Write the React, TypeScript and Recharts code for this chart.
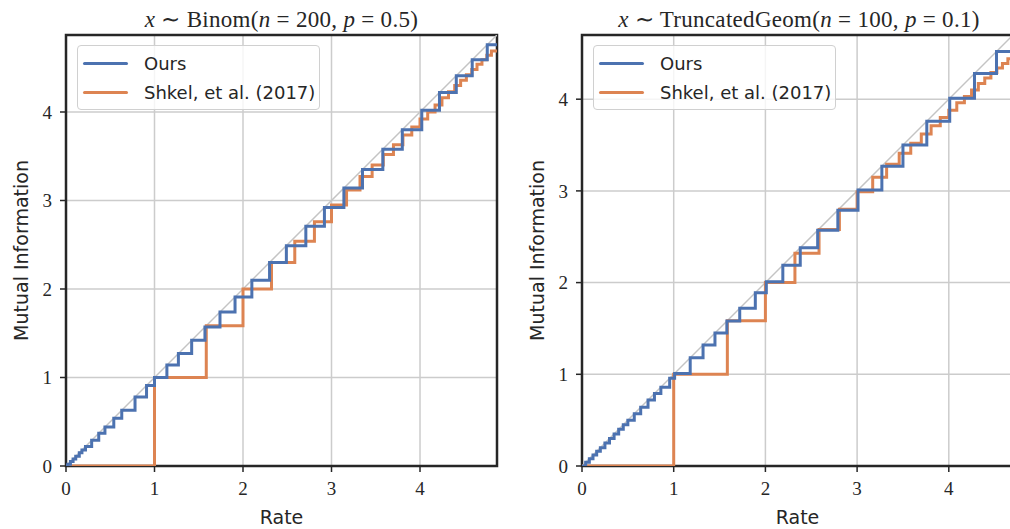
import React from 'react';
import { LineChart, Line, XAxis, YAxis, CartesianGrid, ReferenceArea } from 'recharts';

const BLUE = '#4C72B0';
const ORANGE = '#DD8452';
const FRAME = '#262626';
const GRID = '#cccccc';
const DIAG = '#c4c4c4';

// ---------- data ----------
const axisTicks = [0, 1, 2, 3, 4];

// Left panel: x ~ Binom(n=200, p=0.5)
const binomMax = 4.87;
const binomOursRate = [0, 0.02, 0.05, 0.08, 0.11, 0.15, 0.18, 0.22, 0.29, 0.37, 0.44, 0.54, 0.63, 0.78, 0.91, 1.0, 1.14, 1.27, 1.42, 1.57, 1.74, 1.91, 2.1, 2.3, 2.49, 2.71, 2.92, 3.14, 3.35, 3.58, 3.8, 4.02, 4.22, 4.41, 4.59, 4.76, 4.87];
const binomOursMI = [0, 0.02, 0.05, 0.08, 0.11, 0.15, 0.18, 0.22, 0.29, 0.37, 0.44, 0.54, 0.63, 0.78, 0.91, 1.0, 1.14, 1.27, 1.42, 1.57, 1.74, 1.91, 2.1, 2.3, 2.49, 2.71, 2.92, 3.14, 3.35, 3.58, 3.8, 4.02, 4.22, 4.41, 4.59, 4.76, 4.76];
const binomShkelRate = [0, 1.0, 1.585, 2.0, 2.322, 2.585, 2.807, 3.0, 3.17, 3.322, 3.459, 3.585, 3.7, 3.807, 3.907, 4.0, 4.087, 4.17, 4.248, 4.322, 4.392, 4.459, 4.524, 4.585, 4.644, 4.7, 4.755, 4.807, 4.87];
const binomShkelMI = [0, 1.0, 1.585, 2.0, 2.3, 2.54, 2.76, 2.95, 3.12, 3.27, 3.4, 3.52, 3.63, 3.74, 3.83, 3.92, 4.0, 4.08, 4.16, 4.23, 4.3, 4.36, 4.42, 4.48, 4.54, 4.59, 4.64, 4.69, 4.69];

// Right panel: x ~ TruncatedGeom(n=100, p=0.1)
const geomMax = 4.7;
const geomOursRate = [0, 0.04, 0.08, 0.12, 0.16, 0.2, 0.25, 0.3, 0.35, 0.4, 0.45, 0.5, 0.57, 0.64, 0.72, 0.79, 0.86, 0.956, 1.01, 1.18, 1.32, 1.45, 1.58, 1.72, 1.89, 2.01, 2.19, 2.38, 2.57, 2.79, 3.01, 3.27, 3.5, 3.76, 4.01, 4.28, 4.52, 4.7];
const geomOursMI = [0, 0.04, 0.08, 0.12, 0.16, 0.2, 0.25, 0.3, 0.35, 0.4, 0.45, 0.5, 0.57, 0.64, 0.72, 0.79, 0.86, 0.956, 1.01, 1.18, 1.32, 1.45, 1.58, 1.72, 1.89, 2.01, 2.19, 2.38, 2.57, 2.79, 3.01, 3.27, 3.5, 3.76, 4.01, 4.28, 4.52, 4.52];
const geomShkelRate = [0, 1.0, 1.585, 2.0, 2.322, 2.585, 2.807, 3.0, 3.17, 3.322, 3.459, 3.585, 3.7, 3.807, 3.907, 4.0, 4.087, 4.17, 4.248, 4.322, 4.392, 4.459, 4.524, 4.585, 4.644, 4.7];
const geomShkelMI = [0, 1.0, 1.585, 2.0, 2.32, 2.58, 2.8, 2.99, 3.15, 3.29, 3.41, 3.52, 3.62, 3.71, 3.8, 3.88, 3.96, 4.03, 4.1, 4.17, 4.23, 4.29, 4.34, 4.39, 4.44, 4.44];

const legendLabels = ['Ours', 'Shkel, et al. (2017)'];

const zip = (xs: number[], ys: number[]) => xs.map((x, i) => ({ x, y: ys[i] }));

const SANS = "'DejaVu Sans', sans-serif";
const SERIF = "'Liberation Serif', serif";

type PanelProps = {
  left: number;
  max: number;
  ours: { x: number; y: number }[];
  shkel: { x: number; y: number }[];
};

function Panel({ left, max, ours, shkel }: PanelProps) {
  const diag = zip([0, max], [0, max]);
  const tickStyle = { fill: FRAME, fontSize: 19, fontFamily: SERIF };
  return (
    <div style={{ position: 'absolute', left, top: 0 }}>
      <LineChart width={510} height={529} margin={{ top: 35, right: 13, bottom: 0, left: 0 }}>
        <CartesianGrid stroke={GRID} strokeWidth={1.5} />
        <XAxis
          type="number"
          dataKey="x"
          domain={[0, max]}
          ticks={axisTicks}
          interval={0}
          allowDataOverflow
          height={63}
          axisLine={false}
          tickSize={6}
          tickMargin={10}
          tickLine={{ stroke: FRAME, strokeWidth: 1.5 }}
          tick={tickStyle}
        />
        <YAxis
          type="number"
          dataKey="y"
          domain={[0, max]}
          ticks={axisTicks}
          interval={0}
          allowDataOverflow
          width={66}
          axisLine={false}
          tickSize={6}
          tickMargin={8}
          tickLine={{ stroke: FRAME, strokeWidth: 1.5 }}
          tick={tickStyle}
        />
        <Line data={diag} dataKey="y" type="linear" stroke={DIAG} strokeWidth={1.5} dot={false} activeDot={false} isAnimationActive={false} legendType="none" />
        <Line data={shkel} dataKey="y" type="stepAfter" stroke={ORANGE} strokeWidth={3} dot={false} activeDot={false} isAnimationActive={false} />
        <Line data={ours} dataKey="y" type="stepAfter" stroke={BLUE} strokeWidth={3} dot={false} activeDot={false} isAnimationActive={false} />
        <ReferenceArea x1={0} x2={max} y1={0} y2={max} fill="none" fillOpacity={0} stroke={FRAME} strokeWidth={2.5} ifOverflow="visible" />
      </LineChart>
    </div>
  );
}

function LegendBox({ left }: { left: number }) {
  const colors = [BLUE, ORANGE];
  return (
    <div
      style={{
        position: 'absolute',
        left,
        top: 45,
        width: 243,
        height: 65,
        boxSizing: 'border-box',
        border: '1px solid #d0d0d0',
        borderRadius: 4,
        background: 'rgba(255,255,255,0.8)',
        fontFamily: SANS,
        fontSize: 18,
        color: FRAME,
      }}
    >
      {legendLabels.map((label, i) => (
        <div key={label} style={{ position: 'absolute', left: 5, top: 6 + i * 29, height: 22, display: 'flex', alignItems: 'center', whiteSpace: 'nowrap' }}>
          <span style={{ display: 'inline-block', width: 45, height: 3, background: colors[i], borderRadius: 1.5, marginRight: 16 }} />
          <span>{label}</span>
        </div>
      ))}
    </div>
  );
}

export default function App() {
  return (
    <div style={{ position: 'absolute', left: 0, top: 0, width: 1010, height: 529, overflow: 'hidden', background: '#ffffff' }}>
      <Panel left={0} max={binomMax} ours={zip(binomOursRate, binomOursMI)} shkel={zip(binomShkelRate, binomShkelMI)} />
      <Panel left={516} max={geomMax} ours={zip(geomOursRate, geomOursMI)} shkel={zip(geomShkelRate, geomShkelMI)} />
      <LegendBox left={77} />
      <LegendBox left={593} />
      <svg width={1010} height={529} style={{ position: 'absolute', left: 0, top: 0, pointerEvents: 'none' }}>
        <g fill={FRAME}>
          <text x={281.5} y={27} textAnchor="middle" fontFamily={SERIF} fontSize={23} letterSpacing={0.3}>
            <tspan fontStyle="italic">x</tspan>
            <tspan> ∼ Binom(</tspan>
            <tspan fontStyle="italic">n</tspan>
            <tspan> = 200, </tspan>
            <tspan fontStyle="italic">p</tspan>
            <tspan> = 0.5)</tspan>
          </text>
          <text x={799} y={27} textAnchor="middle" fontFamily={SERIF} fontSize={23} letterSpacing={0.3}>
            <tspan fontStyle="italic">x</tspan>
            <tspan> ∼ TruncatedGeom(</tspan>
            <tspan fontStyle="italic">n</tspan>
            <tspan> = 100, </tspan>
            <tspan fontStyle="italic">p</tspan>
            <tspan> = 0.1)</tspan>
          </text>
          <text x={281.5} y={524} textAnchor="middle" fontFamily={SANS} fontSize={19}>Rate</text>
          <text x={797.5} y={524} textAnchor="middle" fontFamily={SANS} fontSize={19}>Rate</text>
          <text transform="translate(28,250.5) rotate(-90)" textAnchor="middle" fontFamily={SANS} fontSize={19}>Mutual Information</text>
          <text transform="translate(544,250.5) rotate(-90)" textAnchor="middle" fontFamily={SANS} fontSize={19}>Mutual Information</text>
        </g>
      </svg>
    </div>
  );
}
